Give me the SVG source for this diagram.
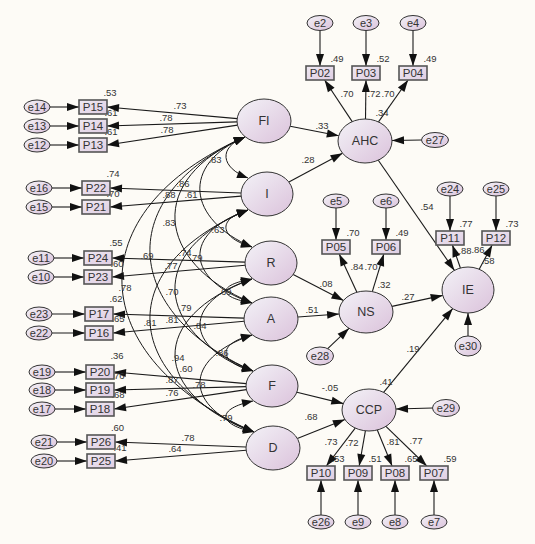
<svg xmlns="http://www.w3.org/2000/svg" width="535" height="544" viewBox="0 0 535 544">
<defs>
<linearGradient id="gL" x1="0" y1="0" x2="1" y2="1"><stop offset="0" stop-color="#f3f2f7"/><stop offset="1" stop-color="#dbc2db"/></linearGradient>
<linearGradient id="gB" x1="0" y1="0" x2="1" y2="1"><stop offset="0" stop-color="#efe9f2"/><stop offset="1" stop-color="#dfcde2"/></linearGradient>
<marker id="ah" markerUnits="userSpaceOnUse" markerWidth="12" markerHeight="8" refX="12" refY="4" orient="auto" overflow="visible"><path d="M0,0 L12,4 L0,8 z" fill="#111"/></marker>
<marker id="ah2" markerUnits="userSpaceOnUse" markerWidth="11" markerHeight="8" refX="11" refY="4" orient="auto-start-reverse" overflow="visible"><path d="M0,0 L11,4 L0,8 z" fill="#111"/></marker>
<style>
.lat{fill:url(#gL);stroke:#333;stroke-width:1}
.err{fill:url(#gL);stroke:#333;stroke-width:1}
.box{fill:url(#gB);stroke:#555;stroke-width:1.6}
.ln{stroke:#1a1a1a;stroke-width:1.1;fill:none;marker-end:url(#ah)}
.arc{stroke:#1a1a1a;stroke-width:1;fill:none;marker-start:url(#ah2);marker-end:url(#ah2)}
text{font-family:"Liberation Sans",Arial,sans-serif;fill:#333;text-anchor:middle;dominant-baseline:central}
.tl{font-size:12.5px}
.tb{font-size:11.5px}
.te{font-size:11px}
.n{font-size:9.5px}
</style>
</defs>
<rect width="535" height="544" fill="#fdfbf6"/>
<g id="connectors">
<path class="ln" d="M50,107 L79,107"/>
<path class="ln" d="M50,126 L79,126"/>
<path class="ln" d="M50,145 L79,145"/>
<path class="ln" d="M52,188 L82,188"/>
<path class="ln" d="M52,207 L82,207"/>
<path class="ln" d="M54,258 L84,258"/>
<path class="ln" d="M54,277 L84,277"/>
<path class="ln" d="M52,314 L85,314"/>
<path class="ln" d="M52,333 L85,333"/>
<path class="ln" d="M55,372 L86,372"/>
<path class="ln" d="M55,390 L86,390"/>
<path class="ln" d="M55,409 L86,409"/>
<path class="ln" d="M57,442 L87,442"/>
<path class="ln" d="M57,461 L87,461"/>
<path class="ln" d="M237.2,118.6 L107,107"/>
<path class="ln" d="M237,121.9 L107,126"/>
<path class="ln" d="M237.5,125.1 L107,145"/>
<path class="ln" d="M241,193 L110,188"/>
<path class="ln" d="M241.1,196.1 L110,207"/>
<path class="ln" d="M245,262.1 L112,258"/>
<path class="ln" d="M245.1,265.3 L112,277"/>
<path class="ln" d="M244,318.1 L113,314"/>
<path class="ln" d="M244.1,321.3 L113,333"/>
<path class="ln" d="M246.2,383.6 L114,372"/>
<path class="ln" d="M246,386.6 L114,390"/>
<path class="ln" d="M246.4,389.6 L114,409"/>
<path class="ln" d="M246,447 L115,442"/>
<path class="ln" d="M246.1,450.2 L115,461"/>
<path class="arc" d="M245,137 C217.7,147.3 220.7,167.8 248,178"/>
<path class="arc" d="M248,210 C216,219.3 220,237.8 252,247"/>
<path class="arc" d="M252,279 C217.3,285 217.3,297 252,303"/>
<path class="arc" d="M252,335 C216.7,344 217.7,362 253,371"/>
<path class="arc" d="M253,401 C216.3,408.8 217.3,424.3 254,432"/>
<path class="arc" d="M245,137 C180.3,164.5 187.3,219.5 252,247"/>
<path class="arc" d="M248,210 C181.3,233.3 185.3,279.8 252,303"/>
<path class="arc" d="M252,279 C182,302 183,348 253,371"/>
<path class="arc" d="M252,335 C181.3,359.3 183.3,407.8 254,432"/>
<path class="arc" d="M245,137 C147,178.5 154,261.5 252,303"/>
<path class="arc" d="M248,210 C147.3,250.3 152.3,330.8 253,371"/>
<path class="arc" d="M252,279 C148,317.3 150,393.8 254,432"/>
<path class="arc" d="M245,137 C113,195.5 121,312.5 253,371"/>
<path class="arc" d="M248,210 C113.3,265.5 119.3,376.5 254,432"/>
<path class="arc" d="M245,137 C75,210.8 84,358.3 254,432"/>
<path class="ln" d="M320,30.5 L320,66"/>
<path class="ln" d="M366,30.5 L366,66"/>
<path class="ln" d="M413,30.5 L413,66"/>
<path class="ln" d="M352.2,121.6 L324.6,80"/>
<path class="ln" d="M365.5,119 L366,80"/>
<path class="ln" d="M378.5,121.9 L408.1,80"/>
<path class="ln" d="M290.2,126.2 L338.8,135.8"/>
<path class="ln" d="M288.9,182.1 L342.5,153.2"/>
<path class="ln" d="M421.5,140 L392,140.5"/>
<path class="ln" d="M378.3,160.2 L454.4,270.4"/>
<path class="ln" d="M336,208 L336,240"/>
<path class="ln" d="M386,208 L386,240"/>
<path class="ln" d="M356.9,292.2 L339.2,254"/>
<path class="ln" d="M372.3,291.6 L383.8,254"/>
<path class="ln" d="M293.2,274.5 L343.5,300.4"/>
<path class="ln" d="M297.9,317 L339.1,314"/>
<path class="ln" d="M327.7,348.6 L349,328.3"/>
<path class="ln" d="M392,306.4 L442.7,295.4"/>
<path class="ln" d="M450,196 L450,231"/>
<path class="ln" d="M496,196 L496,231"/>
<path class="ln" d="M460.4,268 L452.4,245"/>
<path class="ln" d="M479.2,269.2 L492.2,245"/>
<path class="ln" d="M468,336 L468,313"/>
<path class="ln" d="M383.6,392.3 L452.7,308.6"/>
<path class="ln" d="M296.9,392.2 L343.3,403.6"/>
<path class="ln" d="M297.3,438.4 L344.9,419.5"/>
<path class="ln" d="M432.5,408 L396,409"/>
<path class="ln" d="M355.2,428.1 L326.3,466"/>
<path class="ln" d="M365.4,430.8 L359.2,466"/>
<path class="ln" d="M377.3,430 L392.1,466"/>
<path class="ln" d="M385.9,426.4 L426.8,466"/>
<path class="ln" d="M321,515 L321,480"/>
<path class="ln" d="M358,515 L358,480"/>
<path class="ln" d="M395,515 L395,480"/>
<path class="ln" d="M434,515 L434,480"/>
</g>
<g id="labels">
<text class="n" x="110" y="92">.53</text>
<text class="n" x="111" y="112">.61</text>
<text class="n" x="111" y="131">.61</text>
<text class="n" x="180" y="105">.73</text>
<text class="n" x="166" y="117">.78</text>
<text class="n" x="167" y="129">.78</text>
<text class="n" x="113" y="173">.74</text>
<text class="n" x="113" y="193">.70</text>
<text class="n" x="215" y="159">.83</text>
<text class="n" x="183" y="183">.86</text>
<text class="n" x="169" y="194">.88</text>
<text class="n" x="191" y="194">.61</text>
<text class="n" x="169" y="222">.83</text>
<text class="n" x="218" y="229">.63</text>
<text class="n" x="116" y="242">.55</text>
<text class="n" x="117" y="263">.60</text>
<text class="n" x="147" y="255">.69</text>
<text class="n" x="185" y="252">.74</text>
<text class="n" x="196" y="257">.79</text>
<text class="n" x="171" y="265">.77</text>
<text class="n" x="125" y="287">.78</text>
<text class="n" x="172" y="291">.70</text>
<text class="n" x="225" y="291">.69</text>
<text class="n" x="116" y="298">.62</text>
<text class="n" x="185" y="307">.79</text>
<text class="n" x="118" y="318">.65</text>
<text class="n" x="150" y="322">.81</text>
<text class="n" x="172" y="319">.81</text>
<text class="n" x="200" y="325">.84</text>
<text class="n" x="222" y="352">.86</text>
<text class="n" x="117" y="355">.36</text>
<text class="n" x="178" y="357">.94</text>
<text class="n" x="186" y="368">.60</text>
<text class="n" x="118" y="375">.76</text>
<text class="n" x="172" y="379">.87</text>
<text class="n" x="199" y="384">.78</text>
<text class="n" x="172" y="392">.76</text>
<text class="n" x="118" y="394">.68</text>
<text class="n" x="226" y="417">.79</text>
<text class="n" x="117.5" y="427">.60</text>
<text class="n" x="188" y="437">.78</text>
<text class="n" x="120" y="447">.41</text>
<text class="n" x="175" y="448">.64</text>
<text class="n" x="337" y="58">.49</text>
<text class="n" x="383" y="58">.52</text>
<text class="n" x="430" y="58">.49</text>
<text class="n" x="347" y="93">.70</text>
<text class="n" x="374" y="93">.72</text>
<text class="n" x="388" y="93">.70</text>
<text class="n" x="382" y="112">.34</text>
<text class="n" x="322" y="125">.33</text>
<text class="n" x="308" y="159">.28</text>
<text class="n" x="427" y="206">.54</text>
<text class="n" x="353" y="232">.70</text>
<text class="n" x="402" y="232">.49</text>
<text class="n" x="357" y="266">.84</text>
<text class="n" x="371" y="266">.70</text>
<text class="n" x="384" y="284">.32</text>
<text class="n" x="326" y="283">.08</text>
<text class="n" x="312" y="309">.51</text>
<text class="n" x="408" y="296">.27</text>
<text class="n" x="466" y="223">.77</text>
<text class="n" x="512" y="223">.73</text>
<text class="n" x="465" y="250">.88</text>
<text class="n" x="478" y="249">.86</text>
<text class="n" x="488" y="260">.58</text>
<text class="n" x="413" y="348">.19</text>
<text class="n" x="386" y="381">.41</text>
<text class="n" x="330" y="387">-.05</text>
<text class="n" x="311" y="416">.68</text>
<text class="n" x="331" y="441">.73</text>
<text class="n" x="352" y="442">.72</text>
<text class="n" x="393" y="441">.81</text>
<text class="n" x="416" y="440">.77</text>
<text class="n" x="338" y="458">.53</text>
<text class="n" x="375" y="458">.51</text>
<text class="n" x="411" y="458">.65</text>
<text class="n" x="450" y="458">.59</text>
</g>
<g id="FI"><ellipse class="lat" cx="264" cy="121" rx="27" ry="22"/><text class="tl" x="264" y="121">FI</text></g>
<g id="I"><ellipse class="lat" cx="267" cy="194" rx="26" ry="22"/><text class="tl" x="267" y="194">I</text></g>
<g id="R"><ellipse class="lat" cx="271" cy="263" rx="26" ry="22"/><text class="tl" x="271" y="263">R</text></g>
<g id="A"><ellipse class="lat" cx="271" cy="319" rx="27" ry="22"/><text class="tl" x="271" y="319">A</text></g>
<g id="F"><ellipse class="lat" cx="272" cy="386" rx="26" ry="21"/><text class="tl" x="272" y="386">F</text></g>
<g id="D"><ellipse class="lat" cx="273" cy="448" rx="27" ry="22"/><text class="tl" x="273" y="448">D</text></g>
<g id="AHC"><ellipse class="lat" cx="365" cy="141" rx="27" ry="22"/><text class="tl" x="365" y="141">AHC</text></g>
<g id="NS"><ellipse class="lat" cx="366" cy="312" rx="27" ry="21"/><text class="tl" x="366" y="312">NS</text></g>
<g id="CCP"><ellipse class="lat" cx="369" cy="410" rx="27" ry="21"/><text class="tl" x="369" y="410">CCP</text></g>
<g id="IE"><ellipse class="lat" cx="468" cy="290" rx="26" ry="23"/><text class="tl" x="468" y="290">IE</text></g>
<g id="P15"><rect class="box" x="79" y="100" width="28" height="14"/><text class="tb" x="93" y="107">P15</text></g>
<g id="P14"><rect class="box" x="79" y="119" width="28" height="14"/><text class="tb" x="93" y="126">P14</text></g>
<g id="P13"><rect class="box" x="79" y="138" width="28" height="14"/><text class="tb" x="93" y="145">P13</text></g>
<g id="P22"><rect class="box" x="82" y="181" width="28" height="14"/><text class="tb" x="96" y="188">P22</text></g>
<g id="P21"><rect class="box" x="82" y="200" width="28" height="14"/><text class="tb" x="96" y="207">P21</text></g>
<g id="P24"><rect class="box" x="84" y="251" width="28" height="14"/><text class="tb" x="98" y="258">P24</text></g>
<g id="P23"><rect class="box" x="84" y="270" width="28" height="14"/><text class="tb" x="98" y="277">P23</text></g>
<g id="P17"><rect class="box" x="85" y="307" width="28" height="14"/><text class="tb" x="99" y="314">P17</text></g>
<g id="P16"><rect class="box" x="85" y="326" width="28" height="14"/><text class="tb" x="99" y="333">P16</text></g>
<g id="P20"><rect class="box" x="86" y="365" width="28" height="14"/><text class="tb" x="100" y="372">P20</text></g>
<g id="P19"><rect class="box" x="86" y="383" width="28" height="14"/><text class="tb" x="100" y="390">P19</text></g>
<g id="P18"><rect class="box" x="86" y="402" width="28" height="14"/><text class="tb" x="100" y="409">P18</text></g>
<g id="P26"><rect class="box" x="87" y="435" width="28" height="14"/><text class="tb" x="101" y="442">P26</text></g>
<g id="P25"><rect class="box" x="87" y="454" width="28" height="14"/><text class="tb" x="101" y="461">P25</text></g>
<g id="P02"><rect class="box" x="306" y="66" width="28" height="14"/><text class="tb" x="320" y="73">P02</text></g>
<g id="P03"><rect class="box" x="352" y="66" width="28" height="14"/><text class="tb" x="366" y="73">P03</text></g>
<g id="P04"><rect class="box" x="399" y="66" width="28" height="14"/><text class="tb" x="413" y="73">P04</text></g>
<g id="P05"><rect class="box" x="322" y="240" width="28" height="14"/><text class="tb" x="336" y="247">P05</text></g>
<g id="P06"><rect class="box" x="372" y="240" width="28" height="14"/><text class="tb" x="386" y="247">P06</text></g>
<g id="P11"><rect class="box" x="436" y="231" width="28" height="14"/><text class="tb" x="450" y="238">P11</text></g>
<g id="P12"><rect class="box" x="482" y="231" width="28" height="14"/><text class="tb" x="496" y="238">P12</text></g>
<g id="P10"><rect class="box" x="307" y="466" width="28" height="14"/><text class="tb" x="321" y="473">P10</text></g>
<g id="P09"><rect class="box" x="344" y="466" width="28" height="14"/><text class="tb" x="358" y="473">P09</text></g>
<g id="P08"><rect class="box" x="381" y="466" width="28" height="14"/><text class="tb" x="395" y="473">P08</text></g>
<g id="P07"><rect class="box" x="420" y="466" width="28" height="14"/><text class="tb" x="434" y="473">P07</text></g>
<g id="e14"><ellipse class="err" cx="37" cy="107" rx="13" ry="7"/><text class="te" x="37" y="107">e14</text></g>
<g id="e13"><ellipse class="err" cx="37" cy="126" rx="13" ry="7"/><text class="te" x="37" y="126">e13</text></g>
<g id="e12"><ellipse class="err" cx="37" cy="145" rx="13" ry="7"/><text class="te" x="37" y="145">e12</text></g>
<g id="e16"><ellipse class="err" cx="39" cy="188" rx="13" ry="7"/><text class="te" x="39" y="188">e16</text></g>
<g id="e15"><ellipse class="err" cx="39" cy="207" rx="13" ry="7"/><text class="te" x="39" y="207">e15</text></g>
<g id="e11"><ellipse class="err" cx="41" cy="258" rx="13" ry="7"/><text class="te" x="41" y="258">e11</text></g>
<g id="e10"><ellipse class="err" cx="41" cy="277" rx="13" ry="7"/><text class="te" x="41" y="277">e10</text></g>
<g id="e23"><ellipse class="err" cx="39" cy="314" rx="13" ry="7"/><text class="te" x="39" y="314">e23</text></g>
<g id="e22"><ellipse class="err" cx="39" cy="333" rx="13" ry="7"/><text class="te" x="39" y="333">e22</text></g>
<g id="e19"><ellipse class="err" cx="42" cy="372" rx="13" ry="7"/><text class="te" x="42" y="372">e19</text></g>
<g id="e18"><ellipse class="err" cx="42" cy="390" rx="13" ry="7"/><text class="te" x="42" y="390">e18</text></g>
<g id="e17"><ellipse class="err" cx="42" cy="409" rx="13" ry="7"/><text class="te" x="42" y="409">e17</text></g>
<g id="e21"><ellipse class="err" cx="44" cy="442" rx="13" ry="7"/><text class="te" x="44" y="442">e21</text></g>
<g id="e20"><ellipse class="err" cx="44" cy="461" rx="13" ry="7"/><text class="te" x="44" y="461">e20</text></g>
<g id="e2"><ellipse class="err" cx="320" cy="23" rx="13" ry="7.5"/><text class="te" x="320" y="23">e2</text></g>
<g id="e3"><ellipse class="err" cx="366" cy="23" rx="13" ry="7.5"/><text class="te" x="366" y="23">e3</text></g>
<g id="e4"><ellipse class="err" cx="413" cy="23" rx="13" ry="7.5"/><text class="te" x="413" y="23">e4</text></g>
<g id="e27"><ellipse class="err" cx="435" cy="140" rx="13.5" ry="7.5"/><text class="te" x="435" y="140">e27</text></g>
<g id="e5"><ellipse class="err" cx="336" cy="201" rx="13" ry="7"/><text class="te" x="336" y="201">e5</text></g>
<g id="e6"><ellipse class="err" cx="386" cy="201" rx="13" ry="7"/><text class="te" x="386" y="201">e6</text></g>
<g id="e28"><ellipse class="err" cx="320" cy="356" rx="13.5" ry="9"/><text class="te" x="320" y="356">e28</text></g>
<g id="e24"><ellipse class="err" cx="450" cy="189" rx="13" ry="7"/><text class="te" x="450" y="189">e24</text></g>
<g id="e25"><ellipse class="err" cx="496" cy="189" rx="13" ry="7"/><text class="te" x="496" y="189">e25</text></g>
<g id="e30"><ellipse class="err" cx="468" cy="346" rx="13" ry="10"/><text class="te" x="468" y="346">e30</text></g>
<g id="e29"><ellipse class="err" cx="446" cy="408" rx="13.5" ry="8.5"/><text class="te" x="446" y="408">e29</text></g>
<g id="e26"><ellipse class="err" cx="321" cy="522" rx="13" ry="7"/><text class="te" x="321" y="522">e26</text></g>
<g id="e9"><ellipse class="err" cx="358" cy="522" rx="13" ry="7"/><text class="te" x="358" y="522">e9</text></g>
<g id="e8"><ellipse class="err" cx="395" cy="522" rx="13" ry="7"/><text class="te" x="395" y="522">e8</text></g>
<g id="e7"><ellipse class="err" cx="434" cy="522" rx="13" ry="7"/><text class="te" x="434" y="522">e7</text></g>
</svg>
